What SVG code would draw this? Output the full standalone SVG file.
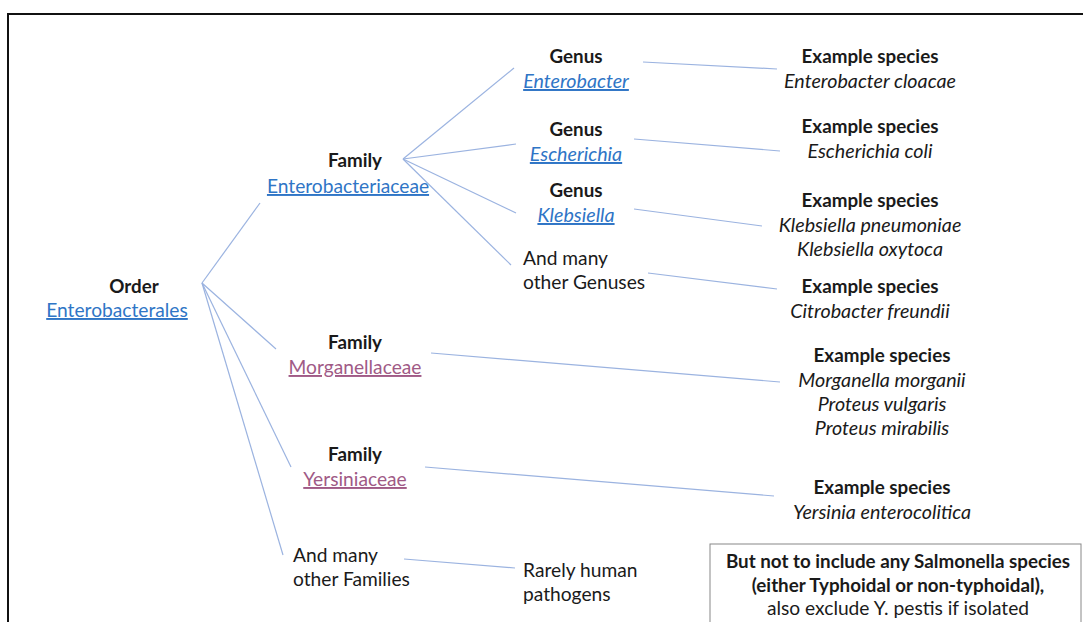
<svg xmlns="http://www.w3.org/2000/svg" width="1083" height="622" viewBox="0 0 1083 622">
<style>
text{font-family:Lato,"Open Sans","Liberation Sans",sans-serif;font-size:19.2px;fill:#1a1a1a}
.b{font-weight:bold;font-size:18.8px}
.c{text-anchor:middle}
.i{font-style:italic;font-size:19.7px}
.lk{fill:#2F75C6;text-decoration:underline}
.mv{fill:#A05A86;text-decoration:underline}
.ln{stroke:#9BB3E0;stroke-width:1.2;fill:none}
</style>
<rect x="0" y="0" width="1083" height="622" fill="#fff"/>
<path d="M8,640 V14 H1090" fill="none" stroke="#111" stroke-width="2"/>
<g id="connectors">
<line class="ln" x1="202" y1="283" x2="260" y2="203"/>
<line class="ln" x1="202" y1="283" x2="276" y2="349"/>
<line class="ln" x1="202" y1="283" x2="291" y2="467"/>
<line class="ln" x1="202" y1="283" x2="283" y2="555"/>
<line class="ln" x1="403" y1="159" x2="514" y2="68"/>
<line class="ln" x1="403" y1="159" x2="516" y2="144"/>
<line class="ln" x1="403" y1="159" x2="516" y2="213"/>
<line class="ln" x1="403" y1="159" x2="511" y2="265"/>
<line class="ln" x1="643" y1="62" x2="777" y2="69"/>
<line class="ln" x1="634" y1="139" x2="780" y2="151"/>
<line class="ln" x1="634" y1="209" x2="762" y2="226"/>
<line class="ln" x1="648" y1="273" x2="777" y2="289"/>
<line class="ln" x1="431" y1="353" x2="780" y2="382"/>
<line class="ln" x1="425" y1="467" x2="774" y2="496"/>
<line class="ln" x1="404" y1="559" x2="515" y2="568"/>
</g>
<g id="order">
<text class="b c" x="134" y="293">Order</text>
<text class="c lk" x="117" y="317">Enterobacterales</text>
</g>
<g id="fam-entero">
<text class="b c" x="355" y="167">Family</text>
<text class="c lk" x="348" y="193">Enterobacteriaceae</text>
</g>
<g id="genus-enterobacter">
<text class="b c" x="576" y="63">Genus</text>
<text class="c i lk" x="576" y="88">Enterobacter</text>
</g>
<g id="genus-escherichia">
<text class="b c" x="576" y="136">Genus</text>
<text class="c i lk" x="576" y="161">Escherichia</text>
</g>
<g id="genus-klebsiella">
<text class="b c" x="576" y="197">Genus</text>
<text class="c i lk" x="576" y="222">Klebsiella</text>
</g>
<g id="genus-other">
<text x="523" y="265">And many</text>
<text x="523" y="289">other Genuses</text>
</g>
<g id="sp-enterobacter">
<text class="b c" x="870" y="63">Example species</text>
<text class="c i" x="870" y="88">Enterobacter cloacae</text>
</g>
<g id="sp-escherichia">
<text class="b c" x="870" y="133">Example species</text>
<text class="c i" x="870" y="158">Escherichia coli</text>
</g>
<g id="sp-klebsiella">
<text class="b c" x="870" y="207">Example species</text>
<text class="c i" x="870" y="232">Klebsiella pneumoniae</text>
<text class="c i" x="870" y="256">Klebsiella oxytoca</text>
</g>
<g id="sp-citrobacter">
<text class="b c" x="870" y="293">Example species</text>
<text class="c i" x="870" y="318">Citrobacter freundii</text>
</g>
<g id="fam-morganella">
<text class="b c" x="355" y="349">Family</text>
<text class="c mv" x="355" y="374">Morganellaceae</text>
</g>
<g id="sp-morganella">
<text class="b c" x="882" y="362">Example species</text>
<text class="c i" x="882" y="387">Morganella morganii</text>
<text class="c i" x="882" y="411">Proteus vulgaris</text>
<text class="c i" x="882" y="435">Proteus mirabilis</text>
</g>
<g id="fam-yersinia">
<text class="b c" x="355" y="461">Family</text>
<text class="c mv" x="355" y="486">Yersiniaceae</text>
</g>
<g id="sp-yersinia">
<text class="b c" x="882" y="494">Example species</text>
<text class="c i" x="882" y="519">Yersinia enterocolitica</text>
</g>
<g id="fam-other">
<text x="293" y="562">And many</text>
<text x="293" y="586">other Families</text>
</g>
<g id="rare">
<text x="523" y="577">Rarely human</text>
<text x="523" y="601">pathogens</text>
</g>
<g id="note">
<rect x="710" y="544" width="371" height="100" fill="#fff" stroke="#888" stroke-width="1"/>
<text class="b c" x="898" y="568">But not to include any Salmonella species</text>
<text class="b c" x="898" y="592">(either Typhoidal or non-typhoidal),</text>
<text class="c" x="898" y="615">also exclude Y. pestis if isolated</text>
</g>
</svg>
